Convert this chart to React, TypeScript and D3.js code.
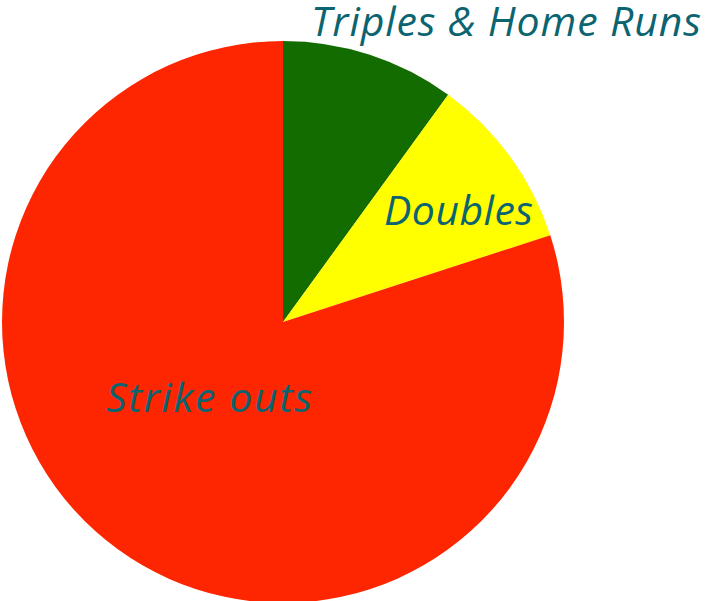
import React from "react";
import * as d3 from "d3";

const categories = ["Triples & Home Runs", "Doubles", "Strike outs"];
const values = [10, 10, 80];
const colors = ["#136c00", "#ffff00", "#fd2600"];

const W = 705;
const H = 601;
const cx = 283;
const cy = 322;
const R = 281;

// label anchor positions (text start x, baseline y) and rendered widths
const labelPos: [number, number][] = [
  [311, 36],
  [384, 225],
  [106, 412],
];
const labelWidths = [390, 149, 206];

export default function App() {
  const pie = d3.pie<number>().sort(null).value((d) => d)(values);
  const arc = d3.arc<d3.PieArcDatum<number>>().innerRadius(0).outerRadius(R);
  return (
    <svg
      width={W}
      height={H}
      style={{ position: "absolute", left: 0, top: 0 }}
    >
      <rect width={W} height={H} fill="#fff" />
      <g transform={`translate(${cx},${cy})`}>
        {pie.map((p, i) => (
          <path key={i} d={arc(p) || ""} fill={colors[i]} />
        ))}
      </g>
      {categories.map((c, i) => (
        <text
          key={c}
          x={labelPos[i][0]}
          y={labelPos[i][1]}
          fontFamily="'Open Sans', sans-serif"
          fontStyle="italic"
          fontSize={41}
          textLength={labelWidths[i]}
          lengthAdjust="spacing"
          fill="#0b6470"
        >
          {c}
        </text>
      ))}
    </svg>
  );
}
